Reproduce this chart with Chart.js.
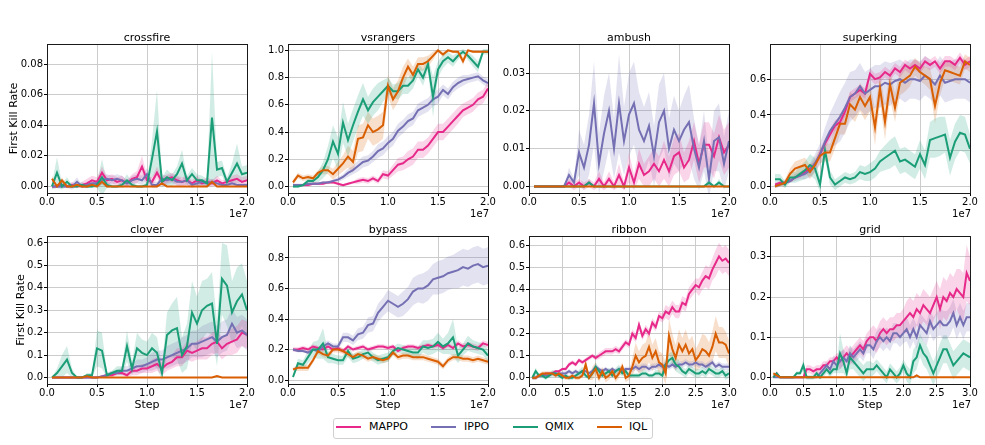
<!DOCTYPE html>
<html>
<head>
<meta charset="utf-8">
<script src="https://cdn.jsdelivr.net/npm/chart.js@4.4.0/dist/chart.umd.min.js"></script>
<style>
  body { margin: 0; background: #fff; width: 985px; height: 445px; position: relative; overflow: hidden; font-family: "DejaVu Sans", sans-serif; }
  canvas { position: absolute; }
  #legend { position: absolute; left: 333px; top: 418px; width: 320px; height: 21px; border: 1px solid #d0d0d0; border-radius: 3px; box-sizing: border-box; background: #fff; }
  #legend .sw { position: absolute; top: 7px; width: 25px; height: 2px; }
  #legend .lb { position: absolute; top: -1px; font-size: 11px; line-height: 18px; color: #000; white-space: nowrap; }
</style>
</head>
<body>
<div id="legend"></div>
<script>
// methods / colours
const methods = ['MAPPO', 'IPPO', 'QMIX', 'IQL'];
const colors = ['#e7298a', '#7570b3', '#1b9e77', '#d95f02'];
const bandColors = ['rgba(231,41,138,0.2)', 'rgba(117,112,179,0.2)', 'rgba(27,158,119,0.2)', 'rgba(217,95,2,0.2)'];

// training steps (millions)
const steps20 = [0.5,1,1.5,2,2.5,3,3.5,4,4.5,5, 5.5,6,6.5,7,7.5,8,8.5,9,9.5,10,
  10.5,11,11.5,12,12.5,13,13.5,14,14.5,15, 15.5,16,16.5,17,17.5,18,18.5,19,19.5,20];
const steps30 = [0.5,1,1.5,2,2.5,3,3.5,4,4.5,5, 5.5,6,6.5,7,7.5,8,8.5,9,9.5,10,
  10.5,11,11.5,12,12.5,13,13.5,14,14.5,15, 15.5,16,16.5,17,17.5,18,18.5,19,19.5,20,
  20.5,21,21.5,22,22.5,23,23.5,24,24.5,25, 25.5,26,26.5,27,27.5,28,28.5,29,29.5,30];

// ---- crossfire ----
const crossfireMappo = [0,0,0.001,0,0.001,0,0.001,0.002,0.004,0.003, 0.009,0.004,0.005,0.003,0.004,0.002,0.005,0.006,0.013,0.004,
  0.003,0.009,0.003,0.005,0.006,0.004,0.003,0.004,0.002,0.004, 0.002,0.003,0.002,0.004,0.002,0.003,0.004,0.005,0.003,0.004];
const crossfireIppo = [0,0,0,0,0,0.003,0,0.001,0.002,0.002, 0.004,0.005,0.004,0.005,0.004,0.002,0.004,0.005,0.004,0.008,
  0.001,0.001,0.005,0.004,0.005,0.003,0.003,0.004,0.001,0.002, 0.003,0.002,0.003,0.002,0.001,0.001,0.002,0.001,0.001,0.001];
const crossfireQmix = [0,0.009,0,0.003,0,0,0.001,0,0,0.001, 0.006,0.001,0,0,0.001,0.004,0.001,0,0,0.001,
  0.018,0.036,0.003,0.006,0.004,0.008,0.015,0.004,0.008,0.004, 0.004,0.002,0.045,0.011,0.012,0.003,0.009,0.015,0.008,0.009];
const crossfireIql = [0.005,0,0.004,0,0,0.001,0,0,0.001,0, 0.003,0,0,0,0,0,0,0,0,0,
  0,0,0.002,0,0,0,0,0,0,0, 0,0,0.003,0,0,0,0,0,0,0];
const crossfireMappoSd = [0.001,0.001,0.002,0.001,0.002,0.001,0.002,0.003,0.003,0.003, 0.004,0.003,0.003,0.003,0.003,0.002,0.003,0.004,0.007,0.003,
  0.003,0.004,0.003,0.003,0.003,0.003,0.003,0.003,0.002,0.003, 0.002,0.003,0.002,0.003,0.002,0.002,0.003,0.003,0.003,0.003];
const crossfireIppoSd = [0.001,0.001,0.001,0.001,0.002,0.003,0.001,0.002,0.002,0.002, 0.003,0.003,0.003,0.003,0.003,0.002,0.003,0.003,0.003,0.004,
  0.002,0.002,0.003,0.003,0.003,0.003,0.002,0.003,0.002,0.002, 0.002,0.002,0.002,0.002,0.001,0.001,0.002,0.001,0.001,0.001];
const crossfireQmixSd = [0.002,0.01,0.002,0.003,0.001,0.001,0.002,0.001,0.001,0.002, 0.012,0.002,0.001,0.001,0.002,0.004,0.002,0.001,0.001,0.002,
  0.012,0.027,0.003,0.005,0.004,0.005,0.009,0.003,0.004,0.004, 0.003,0.003,0.043,0.005,0.005,0.003,0.006,0.013,0.005,0.005];
const crossfireIqlSd = [0.002,0.001,0.002,0.001,0.001,0.001,0.001,0.001,0.001,0.001, 0.002,0.001,0,0,0,0,0,0,0,0,
  0,0,0.001,0,0,0,0,0,0,0, 0,0,0.002,0,0,0,0,0,0,0];

// ---- vsrangers ----
const vsrangersMappo = [0.01,0.01,0.01,0.01,0.02,0.02,0.02,0.03,0.03,0.02, 0.01,0.02,0.03,0.04,0.05,0.04,0.06,0.04,0.09,0.08,
  0.12,0.16,0.17,0.2,0.22,0.27,0.27,0.3,0.35,0.4, 0.4,0.44,0.48,0.52,0.56,0.58,0.6,0.64,0.66,0.72];
const vsrangersIppo = [0.01,0.01,0.01,0.02,0.02,0.02,0.03,0.03,0.04,0.05, 0.07,0.1,0.12,0.15,0.18,0.19,0.22,0.26,0.28,0.32,
  0.35,0.41,0.44,0.48,0.5,0.56,0.58,0.6,0.64,0.66, 0.71,0.68,0.73,0.76,0.78,0.79,0.8,0.81,0.78,0.76];
const vsrangersQmix = [0,0,0.01,0.04,0.04,0.07,0.12,0.2,0.33,0.24, 0.47,0.34,0.45,0.55,0.64,0.56,0.62,0.66,0.7,0.74,
  0.7,0.7,0.74,0.74,0.78,0.86,0.8,0.9,0.66,0.86, 0.92,0.95,0.92,0.96,0.99,0.96,0.92,0.88,0.99,0.99];
const vsrangersIql = [0.03,0.08,0.06,0.07,0.06,0.1,0.12,0.12,0.09,0.13, 0.17,0.22,0.18,0.35,0.36,0.45,0.4,0.42,0.45,0.74,
  0.64,0.7,0.8,0.88,0.82,0.9,0.9,0.92,0.96,1.0, 0.97,1.0,0.99,0.99,0.92,1.0,0.99,0.99,0.99,0.99];
const vsrangersMappoSd = [0.01,0.01,0.01,0.01,0.01,0.01,0.01,0.01,0.01,0.01, 0.01,0.01,0.01,0.02,0.02,0.02,0.02,0.02,0.03,0.03,
  0.04,0.05,0.05,0.06,0.06,0.06,0.06,0.06,0.06,0.06, 0.06,0.06,0.06,0.06,0.05,0.05,0.05,0.05,0.05,0.05];
const vsrangersIppoSd = [0.01,0.01,0.01,0.01,0.01,0.01,0.01,0.01,0.01,0.02, 0.02,0.03,0.03,0.04,0.04,0.04,0.04,0.05,0.05,0.05,
  0.05,0.05,0.05,0.05,0.05,0.05,0.05,0.05,0.05,0.05, 0.04,0.04,0.04,0.04,0.04,0.03,0.03,0.03,0.03,0.03];
const vsrangersQmixSd = [0.01,0.01,0.01,0.02,0.02,0.04,0.06,0.1,0.12,0.12, 0.15,0.12,0.12,0.12,0.12,0.1,0.1,0.1,0.08,0.06,
  0.05,0.06,0.06,0.06,0.06,0.05,0.06,0.05,0.15,0.06, 0.05,0.04,0.04,0.03,0.02,0.03,0.04,0.04,0.02,0.02];
const vsrangersIqlSd = [0.02,0.02,0.02,0.02,0.02,0.02,0.03,0.03,0.04,0.05, 0.06,0.08,0.08,0.1,0.1,0.1,0.1,0.1,0.1,0.08,
  0.08,0.08,0.08,0.06,0.06,0.05,0.05,0.04,0.03,0.01, 0.02,0.01,0.01,0.01,0.03,0.01,0.01,0.01,0.01,0.01];

// ---- ambush ----
const ambushMappo = [0,0,0,0,0,0,0,0.001,0,0.001, 0,0.001,0,0.002,0,0.002,0,0.003,0,0.005,
  0.001,0.006,0.003,0.004,0.006,0.004,0.007,0.004,0.008,0.009, 0.005,0.007,0.012,0.006,0.011,0.011,0.008,0.013,0.009,0.011];
const ambushIppo = [0,0,0,0,0,0,0,0.003,0.001,0.009, 0.005,0.011,0.022,0.006,0.014,0.02,0.01,0.022,0.012,0.019,
  0.022,0.015,0.012,0.016,0.008,0.017,0.02,0.01,0.015,0.012, 0.015,0.017,0.01,0.005,0.012,0.002,0.012,0.013,0.006,0.012];
const ambushQmix = [0,0,0,0,0,0,0,0,0,0, 0,0.001,0,0,0,0,0,0,0,0,
  0,0,0,0,0,0,0,0,0,0, 0,0,0,0,0,0.001,0,0.001,0,0];
const ambushIql = [0,0,0,0,0,0,0,0,0,0, 0,0,0,0,0,0,0,0,0,0,
  0,0,0,0,0,0,0,0,0,0, 0,0,0,0,0,0,0,0,0,0];
const ambushMappoSd = [0,0,0,0,0,0,0,0.001,0.001,0.001, 0.001,0.001,0.001,0.002,0.001,0.002,0.001,0.003,0.001,0.004,
  0.002,0.004,0.003,0.004,0.004,0.004,0.005,0.004,0.005,0.005, 0.004,0.005,0.005,0.005,0.006,0.006,0.006,0.006,0.006,0.006];
const ambushIppoSd = [0,0,0,0,0,0,0,0.002,0.001,0.006, 0.006,0.008,0.011,0.008,0.01,0.01,0.008,0.013,0.009,0.011,
  0.011,0.01,0.009,0.009,0.008,0.01,0.01,0.008,0.009,0.008, 0.009,0.01,0.008,0.006,0.008,0.005,0.008,0.009,0.007,0.008];
const ambushQmixSd = [0,0,0,0,0,0,0,0,0,0, 0,0.001,0,0,0,0,0,0,0,0,
  0,0,0,0,0,0,0,0,0,0, 0,0,0,0,0,0.001,0,0.001,0,0];
const ambushIqlSd = [0,0,0,0,0,0,0,0,0,0, 0,0,0,0,0,0,0,0,0,0,
  0,0,0,0,0,0,0,0,0,0, 0,0,0,0,0,0,0,0,0,0];

// ---- superking ----
const superkingMappo = [0.01,0.02,0.02,0.03,0.05,0.06,0.08,0.1,0.12,0.18, 0.24,0.29,0.34,0.36,0.42,0.5,0.52,0.54,0.52,0.63,
  0.6,0.61,0.64,0.62,0.66,0.64,0.68,0.66,0.68,0.66, 0.7,0.68,0.7,0.66,0.7,0.7,0.68,0.72,0.68,0.7];
const superkingIppo = [0,0.01,0.02,0.03,0.05,0.06,0.07,0.09,0.13,0.18, 0.25,0.31,0.35,0.39,0.44,0.5,0.52,0.56,0.52,0.54,
  0.56,0.56,0.58,0.57,0.59,0.6,0.58,0.6,0.6,0.59, 0.62,0.6,0.57,0.62,0.58,0.59,0.6,0.6,0.6,0.58];
const superkingQmix = [0.04,0.04,0.01,0.05,0.05,0.07,0.09,0.12,0.1,0.01, 0.2,0.05,0.01,0.03,0.05,0.04,0.05,0.08,0.07,0.08,
  0.1,0.14,0.16,0.18,0.2,0.14,0.15,0.13,0.11,0.18, 0.12,0.26,0.27,0.28,0.29,0.16,0.25,0.3,0.29,0.21];
const superkingIql = [0,0.01,0.02,0.07,0.1,0.11,0.12,0.08,0.12,0.17, 0.19,0.19,0.27,0.35,0.35,0.46,0.43,0.5,0.45,0.5,
  0.33,0.55,0.36,0.57,0.44,0.58,0.6,0.62,0.67,0.64, 0.62,0.6,0.45,0.58,0.65,0.64,0.63,0.62,0.7,0.68];
const superkingMappoSd = [0.01,0.01,0.01,0.01,0.01,0.01,0.02,0.02,0.02,0.03, 0.03,0.03,0.03,0.03,0.03,0.03,0.03,0.03,0.03,0.03,
  0.03,0.03,0.03,0.03,0.03,0.03,0.03,0.03,0.03,0.03, 0.03,0.03,0.03,0.03,0.03,0.03,0.03,0.03,0.03,0.03];
const superkingIppoSd = [0.01,0.01,0.01,0.01,0.02,0.02,0.03,0.04,0.05,0.06, 0.08,0.1,0.12,0.14,0.14,0.14,0.13,0.13,0.12,0.12,
  0.12,0.12,0.12,0.12,0.11,0.11,0.11,0.11,0.11,0.11, 0.11,0.11,0.11,0.11,0.11,0.11,0.11,0.11,0.11,0.11];
const superkingQmixSd = [0.03,0.03,0.02,0.03,0.03,0.04,0.05,0.06,0.06,0.04, 0.05,0.04,0.03,0.03,0.03,0.03,0.03,0.04,0.04,0.05,
  0.05,0.06,0.07,0.08,0.08,0.07,0.07,0.07,0.07,0.08, 0.08,0.1,0.11,0.11,0.1,0.1,0.1,0.1,0.1,0.08];
const superkingIqlSd = [0.01,0.01,0.02,0.03,0.04,0.04,0.04,0.04,0.04,0.04, 0.05,0.05,0.06,0.06,0.06,0.07,0.07,0.08,0.08,0.08,
  0.1,0.08,0.1,0.08,0.08,0.07,0.07,0.06,0.05,0.05, 0.05,0.06,0.1,0.07,0.05,0.05,0.05,0.05,0.04,0.04];

// ---- clover ----
const cloverMappo = [0,0,0,0,0,0,0,0,0,0, 0.005,0.01,0.01,0.02,0.02,0.01,0.03,0.03,0.04,0.04,
  0.05,0.06,0.04,0.06,0.07,0.09,0.09,0.12,0.11,0.12, 0.13,0.13,0.15,0.16,0.13,0.15,0.16,0.17,0.2,0.19];
const cloverIppo = [0,0,0,0,0,0,0,0,0,0, 0.005,0.01,0.02,0.02,0.03,0.03,0.04,0.05,0.05,0.06,
  0.07,0.08,0.08,0.09,0.1,0.11,0.12,0.13,0.15,0.15, 0.16,0.17,0.18,0.16,0.18,0.19,0.24,0.2,0.21,0.19];
const cloverQmix = [0,0.02,0.05,0.08,0.02,0,0,0.01,0.01,0.13, 0.12,0.01,0.02,0.03,0.03,0.14,0.04,0.13,0.11,0.1,
  0.13,0.11,0.02,0.19,0.21,0.22,0.1,0.14,0.29,0.24, 0.3,0.32,0.33,0.15,0.44,0.41,0.29,0.34,0.37,0.3];
const cloverIql = [0,0,0,0,0,0,0,0.005,0,0, 0,0,0,0,0,0,0,0,0,0,
  0,0,0,0,0,0,0,0,0,0, 0,0,0,0.007,0,0,0,0,0,0];
const cloverMappoSd = [0,0,0,0,0,0,0,0,0,0, 0.005,0.01,0.01,0.01,0.01,0.01,0.02,0.02,0.02,0.02,
  0.03,0.03,0.03,0.03,0.03,0.04,0.04,0.04,0.04,0.04, 0.05,0.05,0.05,0.05,0.05,0.05,0.06,0.06,0.06,0.06];
const cloverIppoSd = [0,0,0,0,0,0,0,0,0,0, 0.005,0.01,0.01,0.01,0.02,0.02,0.02,0.03,0.03,0.03,
  0.04,0.04,0.04,0.05,0.05,0.05,0.06,0.06,0.06,0.06, 0.07,0.07,0.07,0.07,0.07,0.07,0.07,0.07,0.07,0.07];
const cloverQmixSd = [0,0.02,0.05,0.06,0.02,0,0,0.01,0.01,0.08, 0.08,0.01,0.01,0.02,0.02,0.07,0.03,0.07,0.06,0.06,
  0.07,0.07,0.03,0.1,0.12,0.14,0.08,0.1,0.14,0.12, 0.13,0.12,0.14,0.1,0.16,0.18,0.14,0.15,0.14,0.13];
const cloverIqlSd = [0.001,0.001,0.001,0.001,0.001,0.001,0.001,0.003,0.001,0.001, 0.001,0.001,0.001,0.001,0.001,0.001,0.001,0.001,0.001,0.001,
  0.001,0.001,0.001,0.001,0.001,0.001,0.001,0.001,0.001,0.001, 0.001,0.001,0.001,0.004,0.001,0.001,0.001,0.001,0.001,0.001];

// ---- bypass ----
const bypassMappo = [0.2,0.2,0.21,0.2,0.22,0.21,0.2,0.22,0.2,0.21, 0.19,0.22,0.2,0.21,0.22,0.2,0.21,0.22,0.22,0.21,
  0.22,0.19,0.21,0.22,0.22,0.21,0.22,0.23,0.22,0.23, 0.21,0.23,0.21,0.24,0.22,0.23,0.22,0.21,0.24,0.23];
const bypassIppo = [0.2,0.19,0.19,0.18,0.2,0.19,0.22,0.24,0.22,0.22, 0.28,0.28,0.26,0.3,0.31,0.36,0.37,0.44,0.48,0.52,
  0.5,0.48,0.5,0.53,0.58,0.6,0.6,0.62,0.66,0.67, 0.68,0.7,0.71,0.72,0.74,0.73,0.75,0.76,0.74,0.75];
const bypassQmix = [0.02,0.11,0.1,0.15,0.2,0.2,0.24,0.15,0.14,0.13, 0.13,0.19,0.14,0.15,0.17,0.18,0.15,0.13,0.14,0.15,
  0.19,0.21,0.2,0.19,0.18,0.18,0.22,0.21,0.22,0.25, 0.22,0.24,0.28,0.16,0.2,0.24,0.22,0.21,0.2,0.16];
const bypassIql = [0.07,0.08,0.08,0.08,0.13,0.19,0.17,0.16,0.2,0.2, 0.19,0.17,0.15,0.17,0.16,0.14,0.15,0.14,0.13,0.14,
  0.18,0.15,0.16,0.16,0.15,0.15,0.15,0.14,0.13,0.12, 0.09,0.13,0.15,0.15,0.14,0.14,0.13,0.14,0.13,0.12];
const bypassMappoSd = [0.015,0.015,0.015,0.015,0.015,0.015,0.015,0.015,0.015,0.015, 0.015,0.015,0.015,0.015,0.015,0.015,0.015,0.015,0.015,0.015,
  0.015,0.015,0.015,0.015,0.015,0.015,0.015,0.015,0.015,0.015, 0.015,0.015,0.015,0.02,0.02,0.02,0.02,0.02,0.02,0.02];
const bypassIppoSd = [0.01,0.01,0.01,0.01,0.01,0.02,0.02,0.02,0.02,0.02, 0.03,0.03,0.03,0.04,0.04,0.05,0.05,0.06,0.06,0.07,
  0.07,0.07,0.08,0.08,0.09,0.09,0.1,0.1,0.1,0.11, 0.11,0.11,0.11,0.12,0.12,0.12,0.12,0.12,0.12,0.12];
const bypassQmixSd = [0.01,0.03,0.03,0.04,0.05,0.06,0.1,0.04,0.03,0.03, 0.03,0.04,0.03,0.03,0.03,0.03,0.03,0.03,0.03,0.03,
  0.03,0.03,0.03,0.03,0.03,0.04,0.04,0.05,0.05,0.06, 0.05,0.07,0.12,0.05,0.04,0.05,0.04,0.04,0.04,0.04];
const bypassIqlSd = [0.01,0.02,0.02,0.02,0.02,0.02,0.02,0.02,0.02,0.02, 0.02,0.02,0.02,0.02,0.02,0.02,0.02,0.02,0.02,0.02,
  0.02,0.02,0.02,0.02,0.02,0.02,0.02,0.02,0.02,0.02, 0.02,0.02,0.02,0.02,0.02,0.02,0.02,0.02,0.02,0.02];

// ---- ribbon ----
const ribbonMappo = [0,0,0.01,0.01,0.02,0.02,0.02,0.03,0.03,0.04, 0.04,0.06,0.07,0.06,0.08,0.07,0.08,0.09,0.1,0.09,
  0.1,0.11,0.12,0.12,0.12,0.13,0.12,0.14,0.16,0.15, 0.2,0.18,0.24,0.19,0.22,0.2,0.25,0.23,0.28,0.27,
  0.3,0.29,0.32,0.3,0.3,0.34,0.33,0.38,0.4,0.42, 0.41,0.44,0.46,0.45,0.49,0.52,0.55,0.53,0.54,0.52];
const ribbonIppo = [0,0,0.01,0.01,0.01,0.01,0.02,0.02,0.02,0.02, 0.02,0.03,0.02,0.03,0.02,0.03,0.03,0.02,0.03,0.05,
  0.04,0.03,0.04,0.03,0.04,0.03,0.04,0.03,0.04,0.04, 0.04,0.05,0.04,0.05,0.05,0.04,0.05,0.05,0.06,0.05,
  0.06,0.05,0.06,0.05,0.06,0.06,0.07,0.06,0.06,0.07, 0.06,0.06,0.05,0.06,0.07,0.05,0.06,0.05,0.05,0.05];
const ribbonQmix = [0,0.03,0.01,0.01,0,0.01,0.02,0.02,0.01,0, 0.01,0,0,0.01,0.02,0.03,0.01,0,0.02,0.05,
  0.03,0.01,0.02,0.03,0.01,0.03,0.04,0.02,0.03,0.01, 0.01,0.01,0.01,0.02,0.02,0.01,0.01,0.02,0.02,0.01,
  0.06,0.08,0.09,0.06,0.05,0.03,0.02,0.04,0.03,0.02, 0.02,0.03,0.02,0.04,0.03,0.02,0.02,0.03,0.01,0.02];
const ribbonIql = [0,0,0.01,0.02,0.02,0.02,0.02,0.01,0.02,0.01, 0,0,0.01,0,0,0.01,0.06,0,0.02,0.04,
  0,0.03,0,0.01,0.03,0,0.02,0.05,0,0.01, 0.05,0.1,0.07,0.09,0.1,0.14,0.09,0.12,0.07,0.06,
  0.02,0.19,0.13,0.09,0.15,0.12,0.15,0.11,0.13,0.08, 0.1,0.13,0.12,0.1,0.14,0.2,0.16,0.16,0.15,0.11];
const ribbonMappoSd = [0.005,0.005,0.005,0.005,0.005,0.005,0.005,0.005,0.005,0.005, 0.01,0.01,0.01,0.01,0.01,0.01,0.01,0.01,0.01,0.01,
  0.015,0.015,0.015,0.015,0.015,0.015,0.015,0.015,0.015,0.015, 0.02,0.02,0.02,0.02,0.02,0.02,0.02,0.02,0.02,0.02,
  0.03,0.03,0.03,0.03,0.03,0.03,0.03,0.03,0.03,0.03, 0.04,0.04,0.05,0.05,0.05,0.06,0.06,0.06,0.06,0.06];
const ribbonIppoSd = [0.01,0.01,0.01,0.01,0.01,0.01,0.01,0.01,0.01,0.01, 0.01,0.01,0.01,0.01,0.01,0.01,0.01,0.01,0.01,0.01,
  0.01,0.01,0.01,0.01,0.01,0.01,0.01,0.01,0.01,0.01, 0.015,0.015,0.015,0.015,0.015,0.015,0.015,0.015,0.015,0.015,
  0.015,0.015,0.015,0.015,0.015,0.015,0.015,0.015,0.015,0.015, 0.015,0.015,0.015,0.015,0.015,0.015,0.015,0.015,0.015,0.015];
const ribbonQmixSd = [0.01,0.015,0.01,0.01,0.01,0.01,0.015,0.015,0.01,0.01, 0.01,0.01,0.01,0.01,0.015,0.02,0.01,0.01,0.015,0.02,
  0.015,0.01,0.015,0.015,0.01,0.015,0.02,0.015,0.015,0.01, 0.01,0.01,0.01,0.015,0.015,0.01,0.01,0.015,0.015,0.01,
  0.03,0.03,0.03,0.03,0.03,0.02,0.02,0.02,0.02,0.02, 0.02,0.02,0.02,0.02,0.02,0.02,0.02,0.02,0.02,0.02];
const ribbonIqlSd = [0.01,0.01,0.01,0.01,0.01,0.01,0.01,0.01,0.01,0.01, 0.01,0.01,0.01,0.01,0.01,0.01,0.03,0.01,0.03,0.03,
  0.02,0.02,0.02,0.02,0.02,0.02,0.02,0.02,0.02,0.02, 0.04,0.06,0.05,0.06,0.06,0.07,0.06,0.06,0.05,0.05,
  0.05,0.08,0.07,0.06,0.07,0.06,0.07,0.06,0.06,0.05, 0.06,0.07,0.07,0.06,0.07,0.08,0.07,0.07,0.06,0.06];

// ---- grid ----
const gridMappo = [0,0.01,0,0,0,0,0,0,0,0, 0.02,0.02,0.015,0.02,0.02,0.03,0.03,0.04,0.04,0.05,
  0.04,0.05,0.06,0.05,0.06,0.07,0.08,0.07,0.09,0.1, 0.1,0.09,0.11,0.12,0.11,0.12,0.12,0.13,0.13,0.14,
  0.15,0.16,0.15,0.17,0.16,0.18,0.17,0.16,0.18,0.2, 0.17,0.2,0.19,0.21,0.2,0.22,0.21,0.2,0.26,0.24];
const gridIppo = [0,0,0,0,0,0,0,0,0,0, 0,0,0,0,0.01,0.02,0.03,0.02,0.04,0.03,
  0.04,0.05,0.04,0.06,0.05,0.06,0.07,0.06,0.08,0.08, 0.07,0.09,0.1,0.09,0.1,0.09,0.11,0.11,0.1,0.11,
  0.12,0.1,0.12,0.1,0.13,0.12,0.11,0.14,0.12,0.13, 0.14,0.13,0.13,0.14,0.16,0.13,0.15,0.13,0.15,0.15];
const gridQmix = [0,0.01,0,0,0,0,0,0.01,0.01,0.03, 0,0,0,0.01,0,0.01,0.02,0.01,0.02,0.02,
  0.06,0.04,0.01,0.05,0.04,0.03,0.02,0.01,0.02,0.02, 0.02,0.03,0.02,0.01,0,0.02,0.01,0,0.01,0.03,
  0.01,0,0.04,0.05,0.08,0.06,0.05,0.03,0.01,0.03, 0.05,0.07,0.07,0.05,0.03,0.04,0.05,0.06,0.055,0.05];
const gridIql = [0.01,0.005,0,0,0,0,0,0,0,0, 0,0,0,0,0,0,0,0,0,0,
  0,0,0,0,0,0,0,0,0,0, 0,0,0,0,0,0,0,0,0,0,
  0,0,0,0.005,0,0,0,0,0,0, 0,0,0,0,0,0,0,0,0,0];
const gridMappoSd = [0.003,0.003,0.003,0.003,0.003,0.003,0.003,0.003,0.003,0.003, 0.01,0.01,0.01,0.01,0.01,0.01,0.01,0.01,0.01,0.01,
  0.02,0.02,0.02,0.02,0.02,0.02,0.02,0.02,0.02,0.02, 0.03,0.03,0.03,0.03,0.03,0.03,0.03,0.03,0.03,0.03,
  0.04,0.04,0.04,0.04,0.04,0.04,0.04,0.04,0.04,0.04, 0.05,0.05,0.05,0.05,0.05,0.05,0.06,0.06,0.07,0.06];
const gridIppoSd = [0,0,0,0,0,0,0,0,0,0, 0,0,0,0,0.005,0.01,0.01,0.01,0.015,0.015,
  0.02,0.02,0.02,0.02,0.02,0.02,0.02,0.02,0.02,0.02, 0.025,0.025,0.025,0.025,0.025,0.025,0.025,0.025,0.025,0.025,
  0.03,0.03,0.03,0.03,0.03,0.03,0.03,0.03,0.03,0.03, 0.035,0.035,0.035,0.035,0.035,0.035,0.035,0.035,0.035,0.035];
const gridQmixSd = [0.003,0.005,0.003,0.003,0.003,0.003,0.003,0.005,0.005,0.015, 0.005,0.005,0.005,0.01,0.005,0.01,0.01,0.01,0.01,0.01,
  0.05,0.03,0.01,0.03,0.02,0.02,0.02,0.02,0.02,0.02, 0.015,0.015,0.015,0.015,0.015,0.015,0.015,0.015,0.015,0.015,
  0.02,0.02,0.03,0.03,0.03,0.03,0.03,0.03,0.03,0.03, 0.035,0.035,0.035,0.035,0.035,0.035,0.035,0.035,0.035,0.035];
const gridIqlSd = [0.004,0.002,0.001,0.001,0.001,0.001,0.001,0.001,0.001,0.001, 0.001,0.001,0.001,0.001,0.001,0.001,0.001,0.001,0.001,0.001,
  0.001,0.001,0.001,0.001,0.001,0.001,0.001,0.001,0.001,0.001, 0.001,0.001,0.001,0.001,0.001,0.001,0.001,0.001,0.001,0.001,
  0.001,0.001,0.001,0.003,0.001,0.001,0.001,0.001,0.001,0.001, 0.001,0.001,0.001,0.001,0.001,0.001,0.001,0.001,0.001,0.001];

// panel layout (plot area in page pixels) + axis limits
const AXW = 47, PAD_T = 20, PAD_R = 16, PAD_B = 30, PLOT_W = 200;
const panels = [
  { title: 'crossfire', left: 47,  top: 44,  h: 149, steps: steps20, xMax: 2e7, yMin: -0.0043, yMax: 0.0931, yStep: 0.02, dec: 2,
    mean: [crossfireMappo, crossfireIppo, crossfireQmix, crossfireIql], sd: [crossfireMappoSd, crossfireIppoSd, crossfireQmixSd, crossfireIqlSd], ylabelX: 17 },
  { title: 'vsrangers', left: 288, top: 44,  h: 149, steps: steps20, xMax: 2e7, yMin: -0.048, yMax: 1.047, yStep: 0.2, dec: 1,
    mean: [vsrangersMappo, vsrangersIppo, vsrangersQmix, vsrangersIql], sd: [vsrangersMappoSd, vsrangersIppoSd, vsrangersQmixSd, vsrangersIqlSd] },
  { title: 'ambush',    left: 529, top: 44,  h: 149, steps: steps20, xMax: 2e7, yMin: -0.00175, yMax: 0.0377, yStep: 0.01, dec: 2,
    mean: [ambushMappo, ambushIppo, ambushQmix, ambushIql], sd: [ambushMappoSd, ambushIppoSd, ambushQmixSd, ambushIqlSd] },
  { title: 'superking', left: 770, top: 44,  h: 149, steps: steps20, xMax: 2e7, yMin: -0.037, yMax: 0.797, yStep: 0.2, dec: 1,
    mean: [superkingMappo, superkingIppo, superkingQmix, superkingIql], sd: [superkingMappoSd, superkingIppoSd, superkingQmixSd, superkingIqlSd] },
  { title: 'clover',    left: 47,  top: 236, h: 148, steps: steps20, xMax: 2e7, yMin: -0.029, yMax: 0.631, yStep: 0.1, dec: 1,
    mean: [cloverMappo, cloverIppo, cloverQmix, cloverIql], sd: [cloverMappoSd, cloverIppoSd, cloverQmixSd, cloverIqlSd], ylabelX: 23.5, xlabel: true },
  { title: 'bypass',    left: 288, top: 236, h: 148, steps: steps20, xMax: 2e7, yMin: -0.026, yMax: 0.944, yStep: 0.2, dec: 1,
    mean: [bypassMappo, bypassIppo, bypassQmix, bypassIql], sd: [bypassMappoSd, bypassIppoSd, bypassQmixSd, bypassIqlSd], xlabel: true },
  { title: 'ribbon',    left: 529, top: 236, h: 148, steps: steps30, xMax: 3e7, yMin: -0.028, yMax: 0.642, yStep: 0.1, dec: 1,
    mean: [ribbonMappo, ribbonIppo, ribbonQmix, ribbonIql], sd: [ribbonMappoSd, ribbonIppoSd, ribbonQmixSd, ribbonIqlSd], xlabel: true },
  { title: 'grid',      left: 770, top: 236, h: 148, steps: steps30, xMax: 3e7, yMin: -0.0165, yMax: 0.352, yStep: 0.1, dec: 1,
    mean: [gridMappo, gridIppo, gridQmix, gridIql], sd: [gridMappoSd, gridIppoSd, gridQmixSd, gridIqlSd], xlabel: true }
];

Chart.defaults.font.family = '"DejaVu Sans", sans-serif';
Chart.defaults.font.size = 10;
Chart.defaults.color = '#000';

// frame, titles and axis labels drawn on top
const panelText = {
  id: 'panelText',
  afterDraw(chart, args, opts) {
    const { ctx, chartArea: a } = chart;
    ctx.save();
    ctx.strokeStyle = '#1a1a1a';
    ctx.lineWidth = 1;
    ctx.strokeRect(a.left + 0.5, a.top + 0.5, a.right - a.left, a.bottom - a.top);
    ctx.fillStyle = '#000';
    ctx.textBaseline = 'alphabetic';
    ctx.font = '11px "DejaVu Sans"';
    ctx.textAlign = 'center';
    ctx.fillText(opts.title, (a.left + a.right) / 2, a.top - 3.5);
    if (opts.xlabel) ctx.fillText('Step', (a.left + a.right) / 2, a.bottom + 24);
    ctx.font = '10px "DejaVu Sans"';
    ctx.textAlign = 'right';
    ctx.fillText('1e7', a.right + 1, a.bottom + 24);
    if (opts.ylabelX) {
      ctx.font = '11px "DejaVu Sans"';
      ctx.translate(opts.ylabelX, (a.top + a.bottom) / 2);
      ctx.rotate(-Math.PI / 2);
      ctx.textAlign = 'center';
      ctx.fillText('First Kill Rate', 0, 0);
    }
    ctx.restore();
  }
};

function buildDatasets(p) {
  const ds = [];
  // shaded bands (mean +/- sd)
  p.mean.forEach((vals, k) => {
    const lowIdx = ds.length;
    ds.push({
      data: p.steps.map((s, i) => ({ x: s * 1e6, y: vals[i] - p.sd[k][i] })),
      borderColor: 'rgba(0,0,0,0)', borderWidth: 0, pointRadius: 0, fill: false, order: 10
    });
    ds.push({
      data: p.steps.map((s, i) => ({ x: s * 1e6, y: vals[i] + p.sd[k][i] })),
      borderColor: 'rgba(0,0,0,0)', borderWidth: 0, pointRadius: 0,
      fill: lowIdx, backgroundColor: bandColors[k], order: 10
    });
  });
  // mean lines, IQL on top
  p.mean.forEach((vals, k) => {
    ds.push({
      label: methods[k],
      data: p.steps.map((s, i) => ({ x: s * 1e6, y: vals[i] })),
      borderColor: colors[k], borderWidth: 2, pointRadius: 0, fill: false,
      tension: 0, order: 4 - k
    });
  });
  return ds;
}

const gridOpts = { color: '#cccccc', lineWidth: 1, tickLength: 3, tickColor: '#000', tickWidth: 1 };

panels.forEach(p => {
  const cv = document.createElement('canvas');
  cv.width = AXW + PLOT_W + PAD_R;
  cv.height = PAD_T + p.h + PAD_B;
  cv.style.left = (p.left - AXW) + 'px';
  cv.style.top = (p.top - PAD_T) + 'px';
  document.body.appendChild(cv);

  new Chart(cv.getContext('2d'), {
    type: 'line',
    data: { datasets: buildDatasets(p) },
    options: {
      responsive: false,
      animation: false,
      events: [],
      layout: { padding: { top: PAD_T, right: PAD_R, left: 0, bottom: 0 } },
      plugins: {
        legend: { display: false },
        tooltip: { enabled: false },
        panelText: { title: p.title, xlabel: p.xlabel, ylabelX: p.ylabelX }
      },
      scales: {
        x: {
          type: 'linear', min: 0, max: p.xMax,
          afterFit: s => { s.height = PAD_B; },
          ticks: { stepSize: 5e6, includeBounds: false, padding: 0, maxRotation: 0, autoSkip: false,
                   callback: v => (v / 1e7).toFixed(1) },
          grid: gridOpts,
          border: { display: false }
        },
        y: {
          type: 'linear', min: p.yMin, max: p.yMax,
          afterFit: s => { s.width = AXW; },
          ticks: { stepSize: p.yStep, includeBounds: false, padding: 1, autoSkip: false,
                   callback: v => v.toFixed(p.dec) },
          grid: gridOpts,
          border: { display: false }
        }
      }
    },
    plugins: [panelText]
  });
});

// legend box
const legendPos = [[2, 35], [97, 130], [179, 211], [263, 295]];
const legend = document.getElementById('legend');
methods.forEach((m, k) => {
  const sw = document.createElement('div');
  sw.className = 'sw';
  sw.style.left = legendPos[k][0] + 'px';
  sw.style.background = colors[k];
  legend.appendChild(sw);
  const lb = document.createElement('div');
  lb.className = 'lb';
  lb.style.left = legendPos[k][1] + 'px';
  lb.textContent = m;
  legend.appendChild(lb);
});
</script>
</body>
</html>
